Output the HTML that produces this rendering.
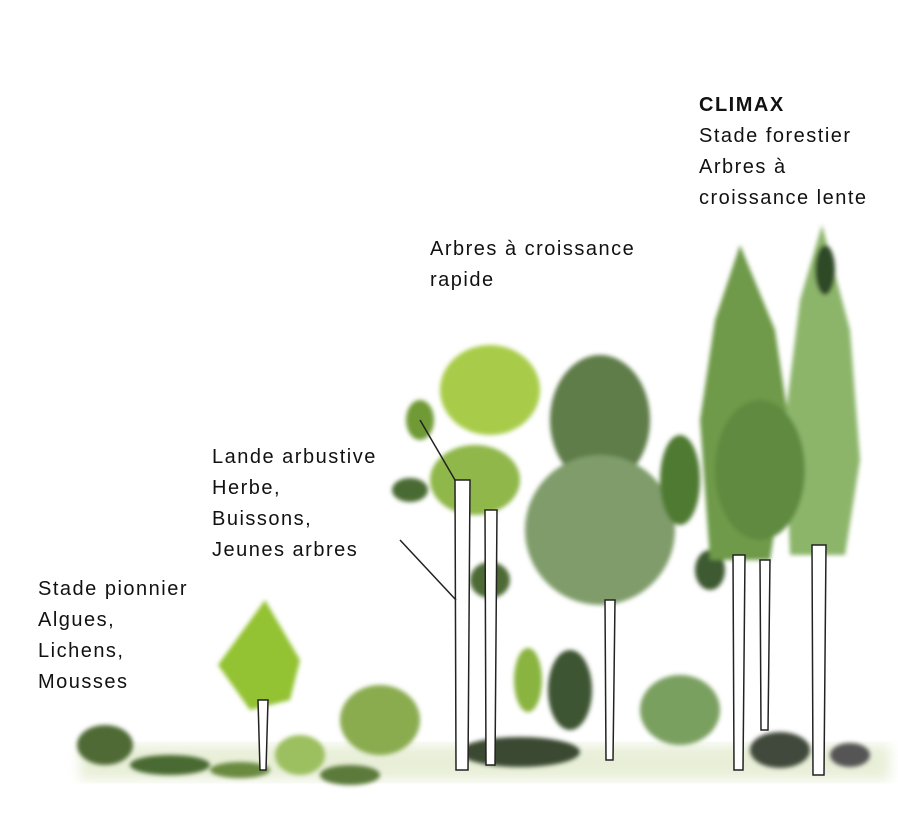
<!DOCTYPE html>
<html><head><meta charset="utf-8"><style>
html,body{margin:0;padding:0;background:#fff;}
#w{position:relative;width:898px;height:837px;overflow:hidden;background:#fff;font-family:"Liberation Sans",sans-serif;}
.t{position:absolute;font-size:20px;line-height:31px;color:#111;letter-spacing:1.5px;}
svg{position:absolute;left:0;top:0;}
</style></head><body><div id="w">
<svg width="898" height="837" viewBox="0 0 898 837">
<defs><filter id="b" x="-20%" y="-20%" width="140%" height="140%"><feGaussianBlur stdDeviation="2"/></filter>
<filter id="b2"><feGaussianBlur stdDeviation="6"/></filter></defs>
<rect x="80" y="745" width="810" height="35" fill="#dfe8c8" filter="url(#b2)" opacity="0.7"/>
<g filter="url(#b)">
<ellipse cx="105" cy="745" rx="28" ry="20" fill="#4f6b35"/>
<ellipse cx="170" cy="765" rx="40" ry="10" fill="#4a6a30"/>
<ellipse cx="240" cy="770" rx="30" ry="8" fill="#6a8a40"/>
<ellipse cx="300" cy="755" rx="25" ry="20" fill="#9cc060"/>
<ellipse cx="380" cy="720" rx="40" ry="35" fill="#8aac50"/>
<ellipse cx="350" cy="775" rx="30" ry="10" fill="#5b7a3a"/>
<ellipse cx="520" cy="752" rx="60" ry="15" fill="#3a4a30"/>
<ellipse cx="528" cy="680" rx="14" ry="32" fill="#8ab440"/>
<ellipse cx="570" cy="690" rx="22" ry="40" fill="#3e5530"/>
<ellipse cx="680" cy="710" rx="40" ry="35" fill="#7aa060"/>
<ellipse cx="780" cy="750" rx="30" ry="18" fill="#3f4a3a"/>
<ellipse cx="850" cy="755" rx="20" ry="12" fill="#555"/>
<polygon points="265,600 300,660 290,700 250,710 218,665" fill="#93c230"/>
<ellipse cx="490" cy="390" rx="50" ry="45" fill="#a8cc4a"/>
<ellipse cx="475" cy="480" rx="45" ry="35" fill="#8fb74a"/>
<ellipse cx="420" cy="420" rx="14" ry="20" fill="#6f9a35"/>
<ellipse cx="410" cy="490" rx="18" ry="12" fill="#4a6a30"/>
<ellipse cx="490" cy="580" rx="20" ry="18" fill="#4e6a35"/>
<ellipse cx="600" cy="420" rx="50" ry="65" fill="#5e7d48"/>
<ellipse cx="600" cy="530" rx="75" ry="75" fill="#7f9c6a"/>
<ellipse cx="680" cy="480" rx="20" ry="45" fill="#4f7a30"/>
<ellipse cx="710" cy="570" rx="15" ry="20" fill="#3e5a30"/>
<polygon points="740,245 775,330 790,430 770,560 710,560 700,420 715,320" fill="#6e9a48"/>
<polygon points="822,225 850,330 860,460 845,555 790,555 785,420 800,300" fill="#8cb56a"/>
<ellipse cx="760" cy="470" rx="45" ry="70" fill="#5f8a40"/>
<ellipse cx="825" cy="270" rx="10" ry="25" fill="#2f4a25"/>
</g>
<g fill="#fff" stroke="#222" stroke-width="1.5">
<path d="M455 480 L470 480 L468 770 L456 770 Z"/>
<path d="M485 510 L497 510 L495 765 L486 765 Z"/>
<path d="M258 700 L268 700 L266 770 L260 770 Z"/>
<path d="M605 600 L615 600 L613 760 L606 760 Z"/>
<path d="M733 555 L745 555 L743 770 L734 770 Z"/>
<path d="M760 560 L770 560 L768 730 L761 730 Z"/>
<path d="M812 545 L826 545 L824 775 L813 775 Z"/>
</g>
<path d="M400 540 L456 600 M420 420 L455 480" stroke="#222" stroke-width="1.5" fill="none"/>
</svg>
<div class="t" style="left:699px;top:90px"><b>CLIMAX</b><br>Stade forestier<br>Arbres à<br>croissance lente</div>
<div class="t" style="left:430px;top:234px">Arbres à croissance<br>rapide</div>
<div class="t" style="left:212px;top:442px">Lande arbustive<br>Herbe,<br>Buissons,<br>Jeunes arbres</div>
<div class="t" style="left:38px;top:574px">Stade pionnier<br>Algues,<br>Lichens,<br>Mousses</div>
</div></body></html>
